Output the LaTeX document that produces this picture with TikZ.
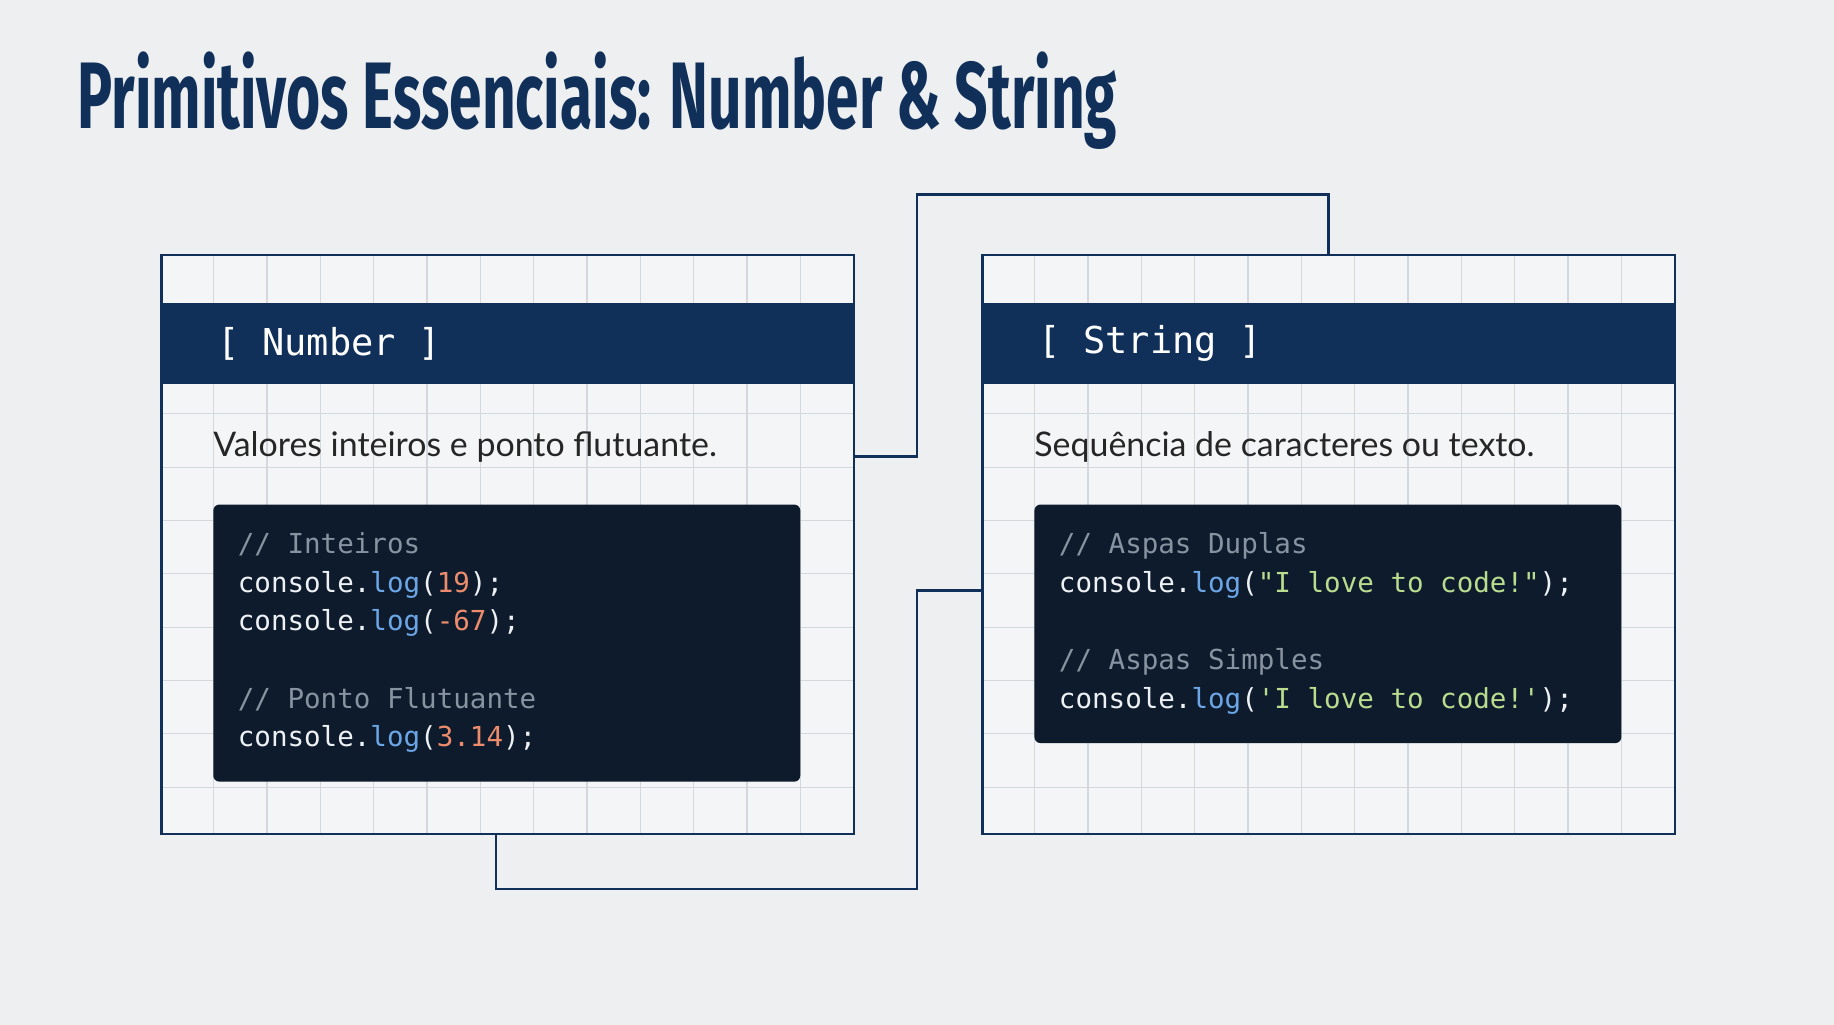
\documentclass[tikz,border=0pt]{standalone}
\usepackage{fontspec}
\setmainfont{Lato}
\newfontfamily\titlefont[FakeStretch=0.62]{Fira Sans}
\newfontfamily\codefont{DejaVu Sans Mono}
\usetikzlibrary{positioning,calc}
\definecolor{navy}{HTML}{10305A}
\definecolor{pagebg}{HTML}{EDEFF1}
\definecolor{gridcol}{HTML}{D3D8DE}
\definecolor{codebg}{HTML}{0D1B2C}
\definecolor{cmt}{HTML}{8793A0}
\definecolor{fn}{HTML}{6CA6E6}
\definecolor{num}{HTML}{EC8C6C}
\definecolor{str}{HTML}{B9DC8E}
\definecolor{txt}{HTML}{EEF1F4}
\tikzset{
    panel/.style={
           draw=navy, line width=1.3pt,
           anchor=north west,
           minimum width=11.84cm,
           minimum height=9.9cm,
           inner sep=0pt
           },
    header/.style={
           fill=navy, anchor=north west,
           minimum width=11.84cm, minimum height=1.38cm,
           inner sep=0pt,
           text=white, font=\codefont\fontsize{18}{20}\selectfont
           },
    codebox/.style={
           fill=codebg, rounded corners=3pt,
           anchor=north west, minimum width=10.04cm,
           inner sep=0pt
           },
    code/.style={
           anchor=north west, align=left, text=txt,
           inner sep=0pt,
           font=\codefont\fontsize{13.4}{18.8}\selectfont
           },
    desc/.style={
           anchor=base west, inner sep=0pt,
           font=\fontsize{16.5}{20}\selectfont, text=black!85
           },
    link/.style={draw=navy, line width=1.3pt}
}
\newcommand{\logcall}[1]{\textcolor{fn}{log}(#1);}
\newcommand{\cmtline}[1]{\textcolor{cmt}{// #1}}
\begin{document}
\begin{tikzpicture}[x=0.02cm, y=-0.02cm]
\fill[pagebg] (0,0) rectangle (1568,876);
\node[anchor=base west, inner sep=0pt, text=navy,
      font=\titlefont\bfseries\fontsize{46}{50}\selectfont] (title) at (66,110)
      {Primitivos Essenciais: Number \& String};

% panels with grid
\foreach \px in {137,839}{
  \fill[pagebg!60!white] (\px,217) rectangle ++(592,495);
  \foreach \i in {1,...,12}
    \draw[gridcol, line width=0.6pt] ({\px+\i*45.6},217) -- ++(0,495);
  \foreach \j in {1,...,10}
    \draw[gridcol, line width=0.6pt] (\px,{217+\j*45.6}) -- ++(592,0);
}
\node[panel] (numpanel) at (137,217) {};
\node[panel] (strpanel) at (839,217) {};
\node[header] (numhead) at (137,259) {};
\node[header] (strhead) at (839,259) {};
\node[anchor=west, text=white, font=\codefont\fontsize{18}{20}\selectfont]
      (numlabel) at (180,294) {[ Number ]};
\node[anchor=west, text=white, font=\codefont\fontsize{18}{20}\selectfont]
      (strlabel) at (882,294) {[ String ]};

\node[desc] (numdesc) at (182,390) {Valores inteiros e ponto flutuante.};
\node[desc] (strdesc) at (884,390) {Sequência de caracteres ou texto.};

\node[codebox, minimum height=4.74cm] (numcode) at (182,431) {};
\node[codebox, minimum height=4.08cm] (strcode) at (884,431) {};

\node[code] (numtext) at (203,455) {%
  \cmtline{Inteiros}\\
  console.\logcall{\textcolor{num}{19}}\\
  console.\logcall{\textcolor{num}{-67}}\\
  \mbox{}\\
  \cmtline{Ponto Flutuante}\\
  console.\logcall{\textcolor{num}{3.14}}};
\node[code] (strtext) at (905,455) {%
  \cmtline{Aspas Duplas}\\
  console.\logcall{\textcolor{str}{\char"22 I love to code!\char"22}}\\
  \mbox{}\\
  \cmtline{Aspas Simples}\\
  console.\logcall{\textcolor{str}{\char"27 I love to code!\char"27}}};

% connectors
\coordinate (topbend) at (784,166);
\coordinate (lowbend) at (784,760);
\coordinate (numout) at (424,712);
\draw[link] (numpanel.east |- 0,390) -| (topbend) -| (strpanel.north);
\draw[link] (numout) |- (lowbend) |- (strpanel.west |- 0,505);
\end{tikzpicture}
\end{document}
